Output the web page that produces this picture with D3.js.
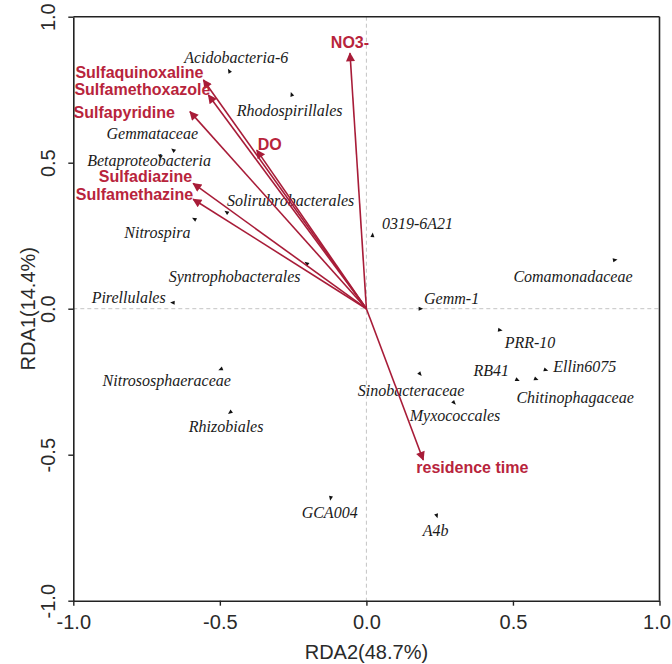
<!DOCTYPE html>
<html>
<head>
<meta charset="utf-8">
<script src="https://cdn.jsdelivr.net/npm/d3@7"></script>
<style>
  html, body { margin: 0; padding: 0; background: #fff; }
  svg { display: block; }
</style>
</head>
<body>
<svg id="chart" width="672" height="664"></svg>
<script>
// ---------- DATA ----------
const axisTicks = [-1.0, -0.5, 0.0, 0.5, 1.0];
const xAxisTitle = "RDA2(48.7%)";
const yAxisTitle = "RDA1(14.4%)";

// environmental factors (arrows)
const envNames = ["NO3-", "Sulfaquinoxaline", "Sulfamethoxazole", "Sulfapyridine", "DO", "Sulfadiazine", "Sulfamethazine", "residence time"];
const envX = [-0.056, -0.556, -0.539, -0.602, -0.374, -0.591, -0.591, 0.194];
const envY = [0.875, 0.783, 0.732, 0.675, 0.543, 0.429, 0.375, -0.518];

// taxa (points)
const taxaNames = ["Acidobacteria-6", "Rhodospirillales", "Gemmataceae", "Betaproteobacteria", "Solirubrobacterales", "Nitrospira", "Syntrophobacterales", "Pirellulales", "0319-6A21", "Comamonadaceae", "Gemm-1", "PRR-10", "Ellin6075", "RB41", "Chitinophagaceae", "Sinobacteraceae", "Myxococcales", "Nitrososphaeraceae", "Rhizobiales", "GCA004", "A4b"];
const taxaX = [-0.468, -0.255, -0.659, -0.704, -0.477, -0.587, -0.204, -0.661, 0.021, 0.848, 0.185, 0.456, 0.612, 0.515, 0.579, 0.183, 0.299, -0.497, -0.465, -0.122, 0.240];
const taxaY = [0.814, 0.734, 0.543, 0.523, 0.330, 0.307, 0.155, 0.021, 0.252, 0.167, 0.000, -0.073, -0.210, -0.244, -0.241, -0.224, -0.322, -0.207, -0.355, -0.649, -0.709];

// ---------- LAYOUT (label placement, px) ----------
const envLabelLayout = [
  {dx: 0, dy: -11, anchor: "middle"},
  {dx: 0, dy: -8, anchor: "end"},
  {dx: 2, dy: -5, anchor: "end"},
  {dx: -15, dy: 1, anchor: "end"},
  {dx: 1, dy: -6, anchor: "start"},
  {dx: -1, dy: -7, anchor: "end"},
  {dx: 0, dy: -5, anchor: "end"},
  {dx: -7, dy: 8, anchor: "start"}
];
const taxaLabelOffset = [
  [7, -14], [-2, 16], [-21, -17], [-11, 5], [64, -12], [-37, 13], [-72, 13], [-44, -5],
  [45, -12], [-42, 17], [31, -10], [30, 12], [39, -4], [-26, -9], [39, 18], [-9, 16],
  [1, 13], [-54, 11], [-4, 14], [-1, 14], [-1, 15]
];

const svg = d3.select("#chart");
const pLeft = 73.3, pRight = 659.5, pTop = 16.7, pBottom = 600.7;

const x = d3.scaleLinear().domain([-1, 1]).range([pLeft, pRight]);
const y = d3.scaleLinear().domain([-1, 1]).range([pBottom, pTop]);

const axisColor = "#222";
const red = "#a81c38";
const redText = "#b8243c";
const fmt = d => d3.format(".1f")(d).replace("\u2212", "-");

// dashed zero lines
svg.append("line")
  .attr("x1", x(0)).attr("x2", x(0)).attr("y1", pTop).attr("y2", pBottom)
  .attr("stroke", "#c4c4c4").attr("stroke-width", 1).attr("stroke-dasharray", "4,3");
svg.append("line")
  .attr("x1", pLeft).attr("x2", pRight).attr("y1", y(0)).attr("y2", y(0))
  .attr("stroke", "#c4c4c4").attr("stroke-width", 1).attr("stroke-dasharray", "4,3");

// frame (top & right)
svg.append("line").attr("x1", pLeft).attr("x2", pRight).attr("y1", pTop).attr("y2", pTop)
  .attr("stroke", axisColor).attr("stroke-width", 1.6);
svg.append("line").attr("x1", pRight).attr("x2", pRight).attr("y1", pTop).attr("y2", pBottom)
  .attr("stroke", axisColor).attr("stroke-width", 1.6);

// axes
const xAxis = svg.append("g").attr("transform", `translate(0,${pBottom})`)
  .call(d3.axisBottom(x).tickValues(axisTicks).tickFormat(fmt).tickSize(5).tickPadding(9).tickSizeOuter(0));
const yAxis = svg.append("g").attr("transform", `translate(${pLeft},0)`)
  .call(d3.axisLeft(y).tickValues(axisTicks).tickFormat(fmt).tickSize(5).tickPadding(9).tickSizeOuter(0));

[xAxis, yAxis].forEach(g => {
  g.select(".domain").attr("stroke", axisColor).attr("stroke-width", 1.6);
  g.selectAll(".tick line").attr("stroke", axisColor).attr("stroke-width", 1.4);
  g.selectAll(".tick text")
    .attr("fill", "#2a2a2a")
    .style("font-family", "'Liberation Sans', Arial, sans-serif")
    .style("font-size", "20px");
});
// keep the last x tick label inside the page
xAxis.selectAll(".tick text").filter(d => d === 1).attr("dx", -3);
yAxis.selectAll(".tick text")
  .attr("x", null).attr("dy", null)
  .attr("text-anchor", "middle")
  .attr("transform", "translate(-25,0) rotate(-90)")
  .attr("dominant-baseline", "central");

// axis titles
svg.append("text")
  .attr("x", (pLeft + pRight) / 2).attr("y", 659)
  .attr("text-anchor", "middle")
  .attr("fill", "#2a2a2a")
  .style("font-family", "'Liberation Sans', Arial, sans-serif")
  .style("font-size", "20px")
  .text(xAxisTitle);
svg.append("text")
  .attr("transform", `translate(35,${y(0)}) rotate(-90)`)
  .attr("text-anchor", "middle")
  .attr("fill", "#2a2a2a")
  .style("font-family", "'Liberation Sans', Arial, sans-serif")
  .style("font-size", "20px")
  .text(yAxisTitle);

// arrow marker
svg.append("defs").append("marker")
  .attr("id", "arrowhead")
  .attr("viewBox", "0 0 10 10")
  .attr("refX", 9).attr("refY", 5)
  .attr("markerWidth", 12).attr("markerHeight", 9)
  .attr("markerUnits", "userSpaceOnUse")
  .attr("orient", "auto")
  .append("path").attr("d", "M0,0 L10,5 L0,10 Z").attr("fill", red);

const env = envNames.map((n, i) => ({name: n, x: envX[i], y: envY[i], lay: envLabelLayout[i]}));
const taxa = taxaNames.map((n, i) => ({name: n, x: taxaX[i], y: taxaY[i], off: taxaLabelOffset[i]}));

// taxa points (small arrow-tip triangles oriented away from the origin)
svg.append("g").selectAll("path").data(taxa).join("path")
  .attr("d", "M2.6,0 L-2,-2 L-2,2 Z")
  .attr("fill", "#111")
  .attr("transform", d => {
    const ang = Math.atan2(y(d.y) - y(0), x(d.x) - x(0)) * 180 / Math.PI;
    return `translate(${x(d.x)},${y(d.y)}) rotate(${ang})`;
  });

// taxa labels
svg.append("g").selectAll("text").data(taxa).join("text")
  .attr("x", d => x(d.x) + d.off[0])
  .attr("y", d => y(d.y) + d.off[1])
  .attr("text-anchor", "middle")
  .attr("dominant-baseline", "central")
  .attr("fill", "#1a1a1a")
  .style("font-family", "'Liberation Serif', 'Times New Roman', serif")
  .style("font-style", "italic")
  .style("font-size", "16px")
  .text(d => d.name);

// env arrows
svg.append("g").selectAll("line").data(env).join("line")
  .attr("x1", x(0)).attr("y1", y(0))
  .attr("x2", d => x(d.x)).attr("y2", d => y(d.y))
  .attr("stroke", red).attr("stroke-width", 1.6)
  .attr("marker-end", "url(#arrowhead)");

// env labels
svg.append("g").selectAll("text").data(env).join("text")
  .attr("x", d => x(d.x) + d.lay.dx)
  .attr("y", d => y(d.y) + d.lay.dy)
  .attr("text-anchor", d => d.lay.anchor)
  .attr("dominant-baseline", "central")
  .attr("fill", redText)
  .style("font-family", "'Liberation Sans', Arial, sans-serif")
  .style("font-weight", "bold")
  .style("font-size", "16px")
  .text(d => d.name);
</script>
</body>
</html>
